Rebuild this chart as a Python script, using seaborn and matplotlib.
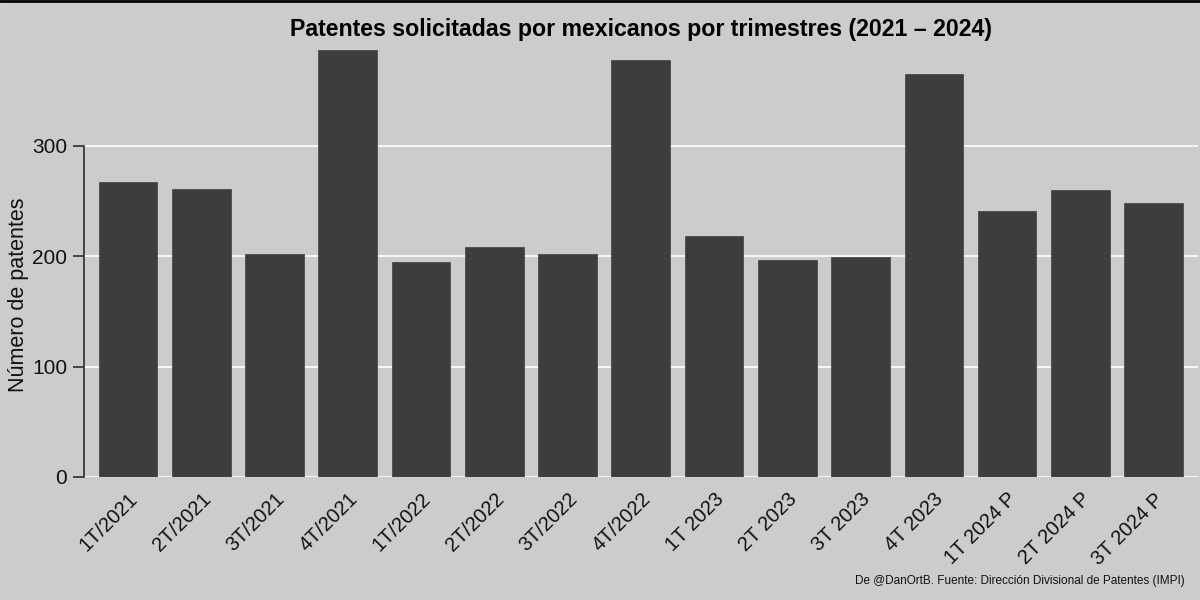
import matplotlib
matplotlib.use("Agg")
import matplotlib.pyplot as plt
import seaborn as sns
import pandas as pd

trimestres = ["1T/2021", "2T/2021", "3T/2021", "4T/2021",
              "1T/2022", "2T/2022", "3T/2022", "4T/2022",
              "1T 2023", "2T 2023", "3T 2023", "4T 2023",
              "1T 2024 P", "2T 2024 P", "3T 2024 P"]
patentes = [267, 261, 202, 387, 195, 208, 202, 378, 218, 197, 199, 365, 241, 260, 248]
yticks = [0, 100, 200, 300]

title = "Patentes solicitadas por mexicanos por trimestres (2021 \u2013 2024)"
ylabel = "Número de patentes"
caption = "De @DanOrtB. Fuente: Dirección Divisional de Patentes (IMPI)"

bg = "#cccccc"
sns.set_theme(style="white", rc={"figure.facecolor": bg, "axes.facecolor": bg})
plt.rcParams["font.family"] = ["Liberation Sans", "DejaVu Sans"]

df = pd.DataFrame({"trimestre": trimestres, "patentes": patentes})

fig = plt.figure(figsize=(12, 6), dpi=100)
ax = fig.add_axes([0.07, 0.205, 0.928, 0.747])
ax.set_facecolor(bg)

for v in yticks:
    ax.axhline(v, color="white", linewidth=1.2, zorder=0)

sns.barplot(data=df, x="trimestre", y="patentes", color="#3d3d3d",
            saturation=1, width=0.8, edgecolor="#4a4a4a", linewidth=0.6,
            ax=ax, zorder=2)

ax.set_xlim(-0.6, len(trimestres) - 0.4)
ax.set_ylim(0, 406)
ax.set_yticks(yticks)
ax.set_yticklabels([str(v) for v in yticks], fontsize=15, color="#111111")

for s in ["top", "right", "bottom"]:
    ax.spines[s].set_visible(False)
ax.spines["left"].set_bounds(0, 300)
ax.spines["left"].set_color("#3a3a3a")
ax.spines["left"].set_linewidth(1.3)
ax.tick_params(axis="y", left=True, length=8, width=1.3, color="#3a3a3a", pad=4)
ax.tick_params(axis="x", bottom=False, pad=3)

ax.set_xticks(range(len(trimestres)))
ax.set_xticklabels(trimestres, rotation=45, ha="right", va="top",
                   rotation_mode="anchor", fontsize=14.5, color="#111111")
ax.set_xlabel("")
ax.set_ylabel(ylabel, fontsize=15.5, color="#111111", labelpad=2)
ax.yaxis.label.set_y(0.406)

fig.text(0.07 + 0.928 / 2, 0.951, title, ha="center", va="center",
         fontsize=16.7, fontweight="bold", color="#000000")
fig.text(0.987, 0.032, caption, ha="right", va="center", fontsize=8.5,
         color="#111111")

fig.add_artist(plt.Line2D([0, 1], [0.998, 0.998], transform=fig.transFigure,
                          color="black", linewidth=2))

fig.savefig("out.png", dpi=100, facecolor=bg)
